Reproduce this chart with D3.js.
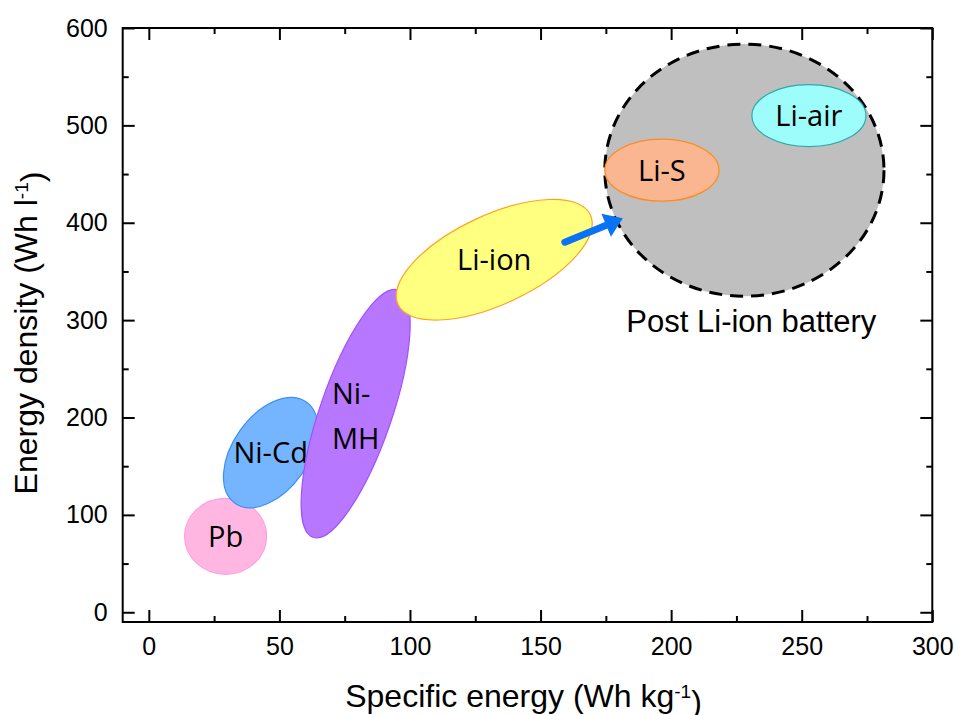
<!DOCTYPE html>
<html>
<head>
<meta charset="utf-8">
<script src="https://cdn.jsdelivr.net/npm/d3@7"></script>
<style>
  body { margin: 0; background: #fff; }
  .axis text { font-family: "Liberation Sans", Arial, sans-serif; font-size: 25px; fill: #000; }
  .axis line { stroke: #000; stroke-width: 2px; }
  .axis path { display: none; }
  .title { font-family: "Liberation Sans", Arial, sans-serif; font-size: 32px; fill: #000; }
  .region-label { font-family: "Open Sans", "Noto Sans", sans-serif; font-size: 29px; fill: #000; }
</style>
</head>
<body>
<svg id="chart"></svg>
<script>
// battery regions: major axis from (lo) to (hi), shape = minor/major ratio
const regionNames = ["Pb", "Ni-Cd", "Ni-MH", "Li-ion", "Post", "Li-S", "Li-air"];
const energyLo  = [13.7, 33.0, 62.9, 95.4, 174.6, 174.6, 230.9];
const densityLo = [78, 112, 77, 316, 454, 454, 510];
const energyHi  = [45.1, 60.3, 95.5, 169.1, 281.5, 218.3, 274.6];
const densityHi = [78, 216, 331, 408, 454, 454, 510];
const shapeRatio = [0.927, 0.61, 0.275, 0.42, 0.903, 0.544, 0.544];
const regionLabels = [["Pb"], ["Ni-Cd"], ["Ni-", "MH"], ["Li-ion"], [], ["Li-S"], ["Li-air"]];
const fills   = ["#ffb7e2", "#75b5ff", "#b877ff", "#ffff80", "#bfbfbf", "#f9b690", "#9dfdfb"];
const strokes = ["#ff9ee0", "#3d8ff2", "#a050ff", "#ffa21f", "#000", "#ff8a1e", "#2fa8a8"];

const arrowFrom = [159.3, 380];
const arrowTo = [181.5, 404.5];
const postLabel = { text: "Post Li-ion battery", energy: 230.7, density: 288 };

const xTicks = [0, 50, 100, 150, 200, 250, 300];
const xMinor = [25, 75, 125, 175, 225, 275];
const yTicks = [0, 100, 200, 300, 400, 500, 600];
const yMinor = [50, 150, 250, 350, 450, 550];

const W = 956, H = 715;
const margin = { top: 28, right: 23.7, bottom: 93, left: 122.7 };
const width = W - margin.left - margin.right;
const height = H - margin.top - margin.bottom;

const svg = d3.select("#chart").attr("width", W).attr("height", H);
const g = svg.append("g").attr("transform", "translate(" + margin.left + "," + margin.top + ")");

const x = d3.scaleLinear().domain([-10, 300]).range([0, width]);
const y = d3.scaleLinear().domain([-10, 600]).range([height, 0]);

// regions
regionNames.forEach(function (name, i) {
  const x1 = x(energyLo[i]), y1 = y(densityLo[i]);
  const x2 = x(energyHi[i]), y2 = y(densityHi[i]);
  const cx = (x1 + x2) / 2, cy = (y1 + y2) / 2;
  const a = Math.hypot(x2 - x1, y2 - y1) / 2;
  const ang = Math.atan2(y2 - y1, x2 - x1) * 180 / Math.PI;
  const isPost = name == "Post";
  g.append("ellipse")
    .attr("cx", cx).attr("cy", cy)
    .attr("rx", a).attr("ry", a * shapeRatio[i])
    .attr("transform", "rotate(" + ang + "," + cx + "," + cy + ")")
    .attr("fill", fills[i])
    .attr("stroke", strokes[i])
    .attr("stroke-width", isPost ? 3 : 1.2)
    .attr("stroke-dasharray", isPost ? "13,8" : null);

  const lines = regionLabels[i];
  if (!lines.length) return;
  const t = g.append("text").attr("class", "region-label");
  const lh = 45;
  lines.forEach(function (s, j) {
    t.append("tspan")
      .attr("x", 0)
      .attr("y", (j - (lines.length - 1) / 2) * lh)
      .attr("dy", "0.36em")
      .text(s);
  });
  const bw = t.node().getBBox().width;
  t.attr("transform", "translate(" + (cx - bw / 2) + "," + (cy + (lines.length > 1 ? 2 : 0)) + ")");
});

// arrow
const ax1 = x(arrowFrom[0]), ay1 = y(arrowFrom[1]);
const ax2 = x(arrowTo[0]), ay2 = y(arrowTo[1]);
const ang = Math.atan2(ay2 - ay1, ax2 - ax1);
const headLen = 18, headW = 25;
g.append("line")
  .attr("x1", ax1).attr("y1", ay1)
  .attr("x2", ax2 - Math.cos(ang) * (headLen - 2))
  .attr("y2", ay2 - Math.sin(ang) * (headLen - 2))
  .attr("stroke", "#0a72f5")
  .attr("stroke-width", 7)
  .attr("stroke-linecap", "round");
g.append("path")
  .attr("d", "M0,0L" + (-headLen) + "," + (-headW / 2) + "L" + (-headLen) + "," + (headW / 2) + "Z")
  .attr("transform", "translate(" + ax2 + "," + ay2 + ") rotate(" + ang * 180 / Math.PI + ")")
  .attr("fill", "#0a72f5");

g.append("text")
  .attr("class", "title")
  .attr("x", x(postLabel.energy))
  .attr("y", y(postLabel.density))
  .attr("text-anchor", "middle")
  .style("font-size", "31px")
  .text(postLabel.text);

// axes
g.append("g").attr("class", "axis")
  .attr("transform", "translate(0," + height + ")")
  .call(d3.axisBottom(x).tickValues(xTicks).tickSizeInner(-12).tickSizeOuter(0).tickPadding(15));
g.append("g").attr("class", "axis")
  .attr("transform", "translate(0," + height + ")")
  .call(d3.axisBottom(x).tickValues(xMinor).tickSizeInner(-6).tickSizeOuter(0).tickFormat(""));
g.append("g").attr("class", "axis")
  .call(d3.axisTop(x).tickValues(xTicks).tickSizeInner(-12).tickSizeOuter(0).tickFormat(""));
g.append("g").attr("class", "axis")
  .call(d3.axisTop(x).tickValues(xMinor).tickSizeInner(-6).tickSizeOuter(0).tickFormat(""));

g.append("g").attr("class", "axis")
  .call(d3.axisLeft(y).tickValues(yTicks).tickSizeInner(-12).tickSizeOuter(0).tickPadding(15));
g.append("g").attr("class", "axis")
  .call(d3.axisLeft(y).tickValues(yMinor).tickSizeInner(-6).tickSizeOuter(0).tickFormat(""));
g.append("g").attr("class", "axis")
  .attr("transform", "translate(" + width + ",0)")
  .call(d3.axisRight(y).tickValues(yTicks).tickSizeInner(-12).tickSizeOuter(0).tickFormat(""));
g.append("g").attr("class", "axis")
  .attr("transform", "translate(" + width + ",0)")
  .call(d3.axisRight(y).tickValues(yMinor).tickSizeInner(-6).tickSizeOuter(0).tickFormat(""));

g.append("rect")
  .attr("width", width).attr("height", height)
  .attr("fill", "none").attr("stroke", "#000").attr("stroke-width", 2);

// axis titles
const xt = svg.append("text").attr("class", "title")
  .attr("x", margin.left + width / 2 - 4)
  .attr("y", 707)
  .attr("text-anchor", "middle");
xt.append("tspan").text("Specific energy (Wh kg");
xt.append("tspan").attr("dy", "-0.45em").style("font-size", "19px").text("-1");
xt.append("tspan").attr("dy", "0.45em").text(")");

const yt = svg.append("text").attr("class", "title")
  .attr("transform", "translate(37," + 333 + ") rotate(-90)")
  .attr("text-anchor", "middle");
yt.append("tspan").text("Energy density (Wh l");
yt.append("tspan").attr("dy", "-0.45em").style("font-size", "19px").text("-1");
yt.append("tspan").attr("dy", "0.45em").text(")");
</script>
</body>
</html>
